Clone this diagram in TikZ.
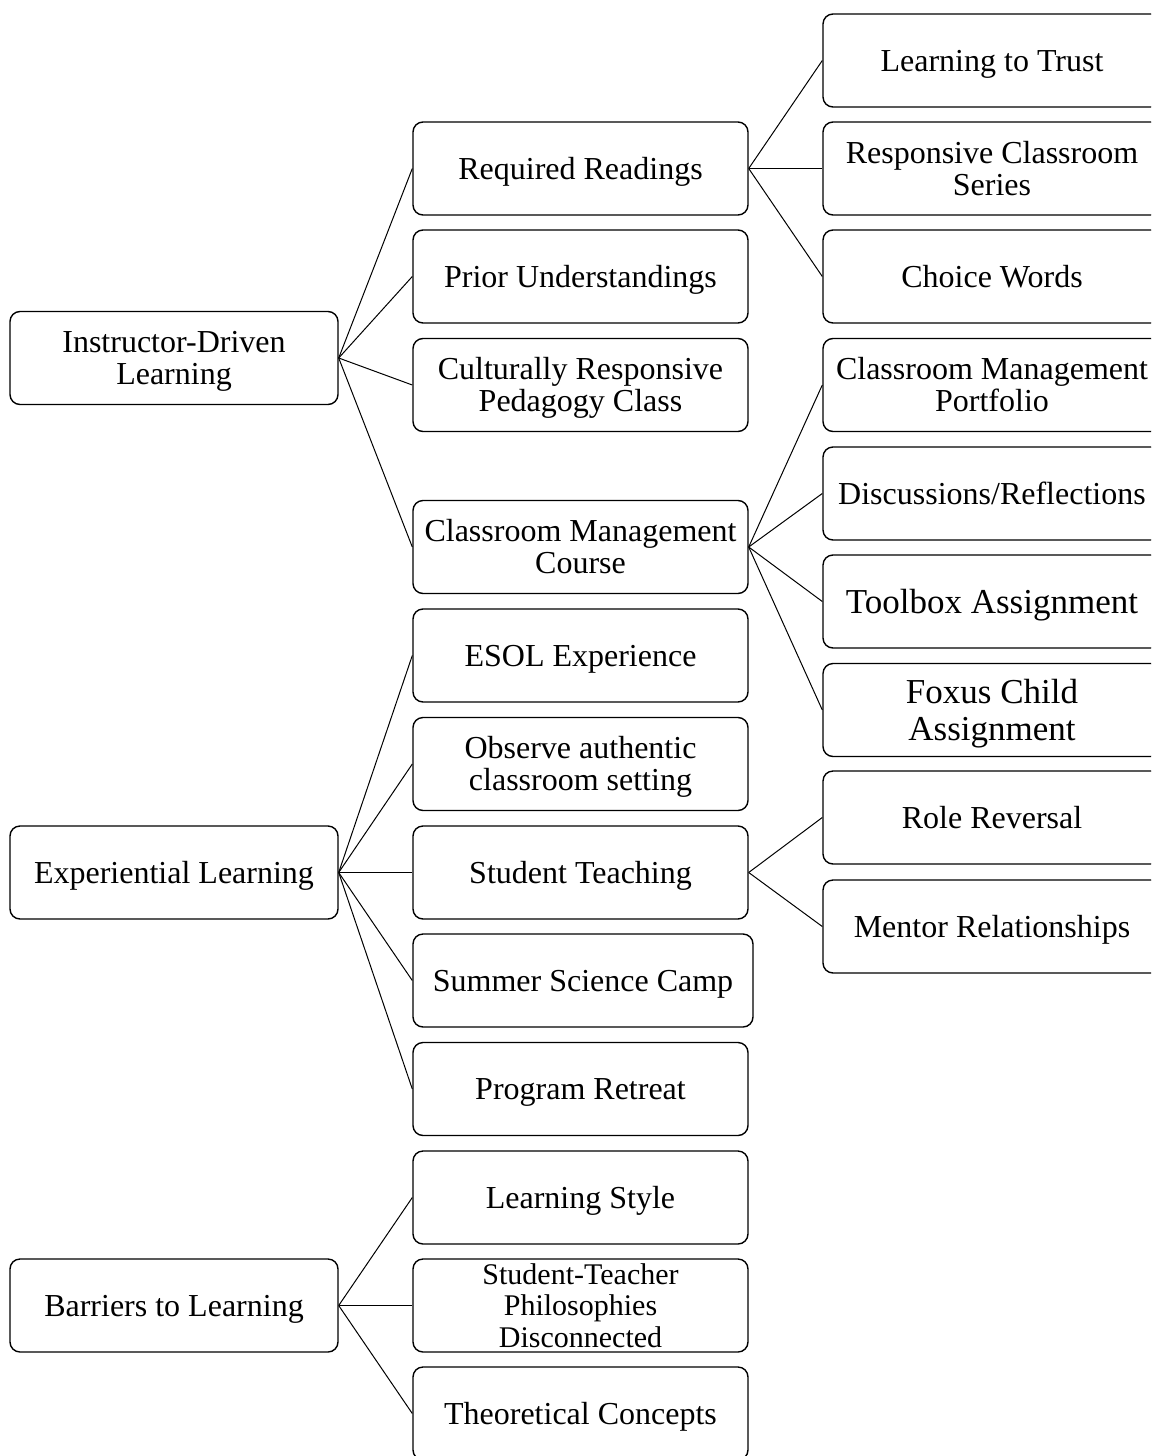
\documentclass[tikz,border=0pt]{standalone}
\usepackage{fontspec}
\setmainfont{Liberation Serif}
\newcommand{\boxfont}{\fontsize{16}{16}\selectfont}
\newcommand{\bigboxfont}{\fontsize{17.5}{18.3}\selectfont}
\newcommand{\smallboxfont}{\fontsize{15}{15.8}\selectfont}
% invisible struts giving each text block the font's full ascent and descent
\newcommand{\ascstrut}{\leavevmode\vrule height .891em depth 0pt width 0pt}
\newcommand{\descstrut}{\vrule height 0pt depth .216em width 0pt}
\newcommand{\lbl}[1]{\ascstrut #1\descstrut}
\begin{document}
\begin{tikzpicture}[x=0.5pt,y=-0.5pt,
  item/.style={draw, line width=0.7pt, rounded corners=5pt, minimum height=46.5pt,
    inner sep=0pt, align=center, font=\boxfont},
  lvlone/.style={item, minimum width=164pt},
  lvltwo/.style={item, minimum width=167.5pt},
  lvlthree/.style={item, minimum width=169pt},
  link/.style={line width=0.5pt}]
\useasboundingbox (0,0) rectangle (1151,1456);
\clip (0,0) rectangle (1151,1456);

% first level
\node[lvlone] (idl) at (174,358) {\lbl{Instructor-Driven\\Learning}};
\node[lvlone] (exl) at (174,872.5) {\lbl{Experiential Learning}};
\node[lvlone] (bar) at (174,1305.5) {\lbl{Barriers to Learning}};

% second level
\node[lvltwo] (rr)  at (580.5,168.5) {\lbl{Required Readings}};
\node[lvltwo] (pu)  at (580.5,276.5) {\lbl{Prior Understandings}};
\node[lvltwo] (crp) at (580.5,385) {\lbl{Culturally Responsive\\Pedagogy Class}};
\node[lvltwo] (cmc) at (580.5,547) {\lbl{Classroom Management\\Course}};
\node[lvltwo] (esol) at (580.5,655.5) {\lbl{ESOL Experience}};
\node[lvltwo] (obs) at (580.5,764) {\lbl{Observe authentic\\classroom setting}};
\node[lvltwo] (st)  at (580.5,872.5) {\lbl{Student Teaching}};
\node[lvltwo, minimum width=170pt] (ssc) at (583,980.5) {\lbl{Summer Science Camp}};
\node[lvltwo] (pr)  at (580.5,1089) {\lbl{Program Retreat}};
\node[lvltwo] (ls)  at (580.5,1197.5) {\lbl{Learning Style}};
% three lines: set without struts so the box keeps its height
\node[lvltwo, font=\smallboxfont] (stp) at (580.5,1305.5) {Student-Teacher\\Philosophies\\Disconnected};
\node[lvltwo] (tc)  at (580.5,1413.5) {\lbl{Theoretical Concepts}};

% third level
\node[lvlthree] (ltt) at (992,60.5) {\lbl{Learning to Trust}};
\node[lvlthree] (rcs) at (992,168.5) {\lbl{Responsive Classroom\\Series}};
\node[lvlthree] (cw)  at (992,276.5) {\lbl{Choice Words}};
\node[lvlthree] (cmp) at (992,385) {\lbl{Classroom Management\\Portfolio}};
\node[lvlthree] (dr)  at (992,493.5) {\lbl{Discussions/Reflections}};
\node[lvlthree, font=\bigboxfont] (tba) at (992,601.5) {\lbl{Toolbox Assignment}};
\node[lvlthree, font=\bigboxfont] (fca) at (992,710) {\lbl{Foxus Child\\Assignment}};
\node[lvlthree] (rrv) at (992,817.5) {\lbl{Role Reversal}};
\node[lvlthree] (mr)  at (992,926.5) {\lbl{Mentor Relationships}};

% connectors
\foreach \c in {rr,pu,crp,cmc} \draw[link] (idl.east) -- (\c.west);
\foreach \c in {esol,obs,st,ssc,pr} \draw[link] (exl.east) -- (\c.west);
\foreach \c in {ls,stp,tc} \draw[link] (bar.east) -- (\c.west);
\foreach \c in {ltt,rcs,cw} \draw[link] (rr.east) -- (\c.west);
\foreach \c in {cmp,dr,tba,fca} \draw[link] (cmc.east) -- (\c.west);
\foreach \c in {rrv,mr} \draw[link] (st.east) -- (\c.west);
\end{tikzpicture}
\end{document}
